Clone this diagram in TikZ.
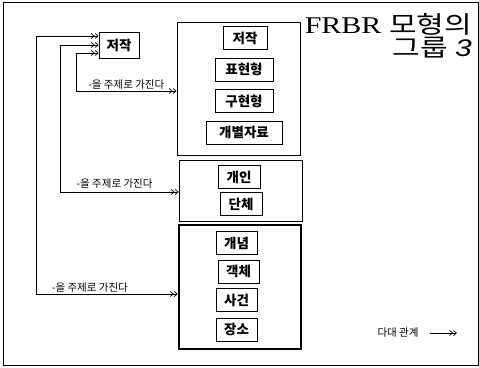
\documentclass[tikz,border=0pt]{standalone}
\usepackage{fontspec}
\setmainfont{Liberation Serif}
\newfontfamily\kor{Noto Sans CJK KR}
\newfontfamily\sans{Liberation Sans}
\usetikzlibrary{arrows.meta}

\tikzset{
  entity/.style={draw, line width=0.7pt, font=\kor\bfseries\fontsize{13.5}{13.5}\selectfont, inner xsep=2pt, inner ysep=0pt, minimum height=23pt},
  group/.style={draw, line width=0.8pt},
  rel/.style={<<->>, line width=0.7pt},
  rellabel/.style={font=\kor\fontsize{10.5}{10.5}\selectfont, above=0pt, inner sep=1pt},
  heading/.style={anchor=east, inner sep=0pt, font=\fontsize{24}{24}\selectfont},
}

\begin{document}
\begin{tikzpicture}[x=1pt, y=-1pt, >={Straight Barb[length=3pt,width=5pt]}]
            \useasboundingbox (0,0) rectangle (479,367);
            \draw[line width=0.8pt] (3,2) rectangle (478,365);
            \node[heading] (title) at (472,24) {\scalebox{1.25}[1]{FRBR {\kor 모형의}}};
            \node[heading] (subtitle) at (472,48) {\scalebox{1.25}[1]{{\kor 그룹} {\sans\itshape 3}}};
            \node[group, minimum width=123pt, minimum height=133pt] (grpA) at (238.5,88.5) {};
            \node[group, minimum width=123pt, minimum height=61pt] (grpB) at (240.5,190.5) {};
            \node[group, line width=2.5pt, minimum width=122pt, minimum height=124pt] (grpC) at (240,287) {};
            \node[entity, minimum width=44pt] (work) at (245,38) {저작};
            \node[entity, minimum width=58pt] (expr) at (244,69.5) {표현형};
            \node[entity, minimum width=58pt] (manif) at (244,101) {구현형};
            \node[entity, minimum width=76pt] (item) at (244,132.5) {개별자료};
            \node[entity, minimum width=42pt] (person) at (239,177) {개인};
            \node[entity, minimum width=42pt] (corp) at (241,204) {단체};
            \node[entity, minimum width=41pt] (concept) at (236.5,243) {개념};
            \node[entity, minimum width=41pt] (object) at (238.5,271.5) {객체};
            \node[entity, minimum width=41pt] (event) at (236.5,300) {사건};
            \node[entity, minimum width=41pt] (place) at (236.5,329.5) {장소};
            \node[entity, minimum width=40pt, minimum height=26pt] (subject) at (119,45) {저작};
            \coordinate (bendA) at (76,91);
            \coordinate (bendB) at (60,192);
            \coordinate (bendC) at (36,294);
            \draw[rel] ([yshift=9pt]subject.west) -| (bendC) -- node[rellabel, pos=0.38] {-을 주제로 가진다} (grpC.west |- bendC);
            \draw[rel] (subject.west) -| (bendB) -- node[rellabel, pos=0.46, above=2pt] {-을 주제로 가진다} (grpB.west |- bendB);
            \draw[rel] ([yshift=-8pt]subject.west) -| (bendA) -- node[rellabel, pos=0.5] {-을 주제로 가진다} (grpA.west |- bendA);
            \node[font=\kor\fontsize{10.5}{10.5}\selectfont] (legend) at (398,333) {다대 관계};
            \coordinate (legendtip) at (457,333);
            \draw[->>, line width=0.7pt] ([xshift=8pt]legend.east) -- (legendtip);
        \end{tikzpicture}
\end{document}
